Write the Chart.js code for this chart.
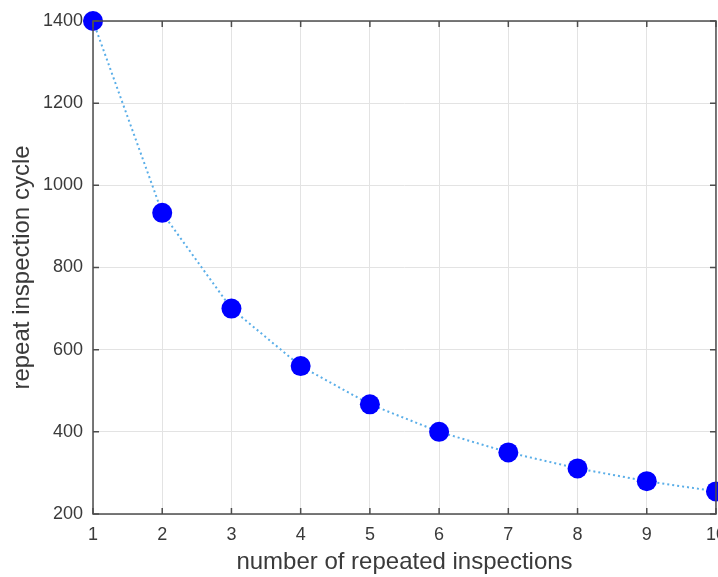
<!DOCTYPE html>
<html>
<head>
<meta charset="utf-8">
<script src="https://cdn.jsdelivr.net/npm/chart.js@4/dist/chart.umd.min.js"></script>
<style>
    html, body { margin: 0; padding: 0; background: #fff; overflow: hidden; }
    #wrap { width: 718px; height: 577px; overflow: hidden; }
    canvas { display: block; }
</style>
</head>
<body>
<div id="wrap"><canvas id="chart" width="736" height="577"></canvas></div>
<script>
// Chart data
const inspections = [1, 2, 3, 4, 5, 6, 7, 8, 9, 10];
const cycleValues = [1400, 933, 700, 560, 467, 400, 350, 311, 280, 255];
const xTicks = [1, 2, 3, 4, 5, 6, 7, 8, 9, 10];
const yTicks = [200, 400, 600, 800, 1000, 1200, 1400];

const AXIS_COLOR = '#4d4d4d';
const TEXT_COLOR = '#3a3a3a';

// Box around the plot with inward tick marks (matlab look)
const boxPlugin = {
    id: 'box',
    afterDatasetsDraw(chart) {
        const ctx = chart.ctx;
        const a = chart.chartArea;
        const xs = chart.scales.x, ys = chart.scales.y;
        ctx.save();
        ctx.strokeStyle = AXIS_COLOR;
        ctx.lineWidth = 1.5;
        ctx.strokeRect(a.left, a.top, a.right - a.left, a.bottom - a.top);
        ctx.beginPath();
        xTicks.forEach(v => {
            const px = xs.getPixelForValue(v);
            ctx.moveTo(px, a.bottom); ctx.lineTo(px, a.bottom - 6);
            ctx.moveTo(px, a.top); ctx.lineTo(px, a.top + 6);
        });
        yTicks.forEach(v => {
            const py = ys.getPixelForValue(v);
            ctx.moveTo(a.left, py); ctx.lineTo(a.left + 6, py);
            ctx.moveTo(a.right, py); ctx.lineTo(a.right - 6, py);
        });
        ctx.stroke();
        ctx.restore();
    }
};

new Chart(document.getElementById('chart').getContext('2d'), {
    type: 'scatter',
    data: {
        datasets: [{
            data: inspections.map((n, i) => ({ x: n, y: cycleValues[i] })),
            showLine: true,
            borderColor: '#5aaee8',
            borderWidth: 2,
            borderDash: [2, 3],
            backgroundColor: '#0000ff',
            pointBackgroundColor: '#0000ff',
            pointBorderWidth: 0,
            pointRadius: 10,
            pointHoverRadius: 10,
            clip: false
        }]
    },
    options: {
        responsive: false,
        animation: false,
        layout: { padding: { top: 21, right: 0, left: 8, bottom: 0 } },
        plugins: {
            legend: { display: false },
            tooltip: { enabled: false }
        },
        scales: {
            x: {
                type: 'linear',
                min: 1,
                max: 10,
                afterBuildTicks: (scale) => { scale.ticks = xTicks.map(v => ({ value: v })); },
                afterFit: (scale) => { scale.height = 63; },
                grid: { color: '#e3e3e3', lineWidth: 1, drawTicks: false },
                border: { display: false },
                ticks: {
                    color: TEXT_COLOR,
                    font: { family: 'Liberation Sans', size: 18 },
                    padding: 10,
                    maxRotation: 0,
                    callback: (v) => String(v)
                },
                title: {
                    display: true,
                    text: 'number of repeated inspections',
                    color: TEXT_COLOR,
                    font: { family: 'Liberation Sans', size: 24 },
                    padding: { top: 4, bottom: 0 }
                }
            },
            y: {
                min: 200,
                max: 1400,
                afterBuildTicks: (scale) => { scale.ticks = yTicks.map(v => ({ value: v })); },
                afterFit: (scale) => { scale.width = 85; },
                grid: { color: '#e3e3e3', lineWidth: 1, drawTicks: false },
                border: { display: false },
                ticks: {
                    color: TEXT_COLOR,
                    font: { family: 'Liberation Sans', size: 18 },
                    padding: 10,
                    callback: (v) => String(v)
                },
                title: {
                    display: true,
                    text: 'repeat inspection cycle',
                    color: TEXT_COLOR,
                    font: { family: 'Liberation Sans', size: 24 },
                    padding: { top: 0, bottom: 5 }
                }
            }
        }
    },
    plugins: [boxPlugin]
});
</script>
</body>
</html>
